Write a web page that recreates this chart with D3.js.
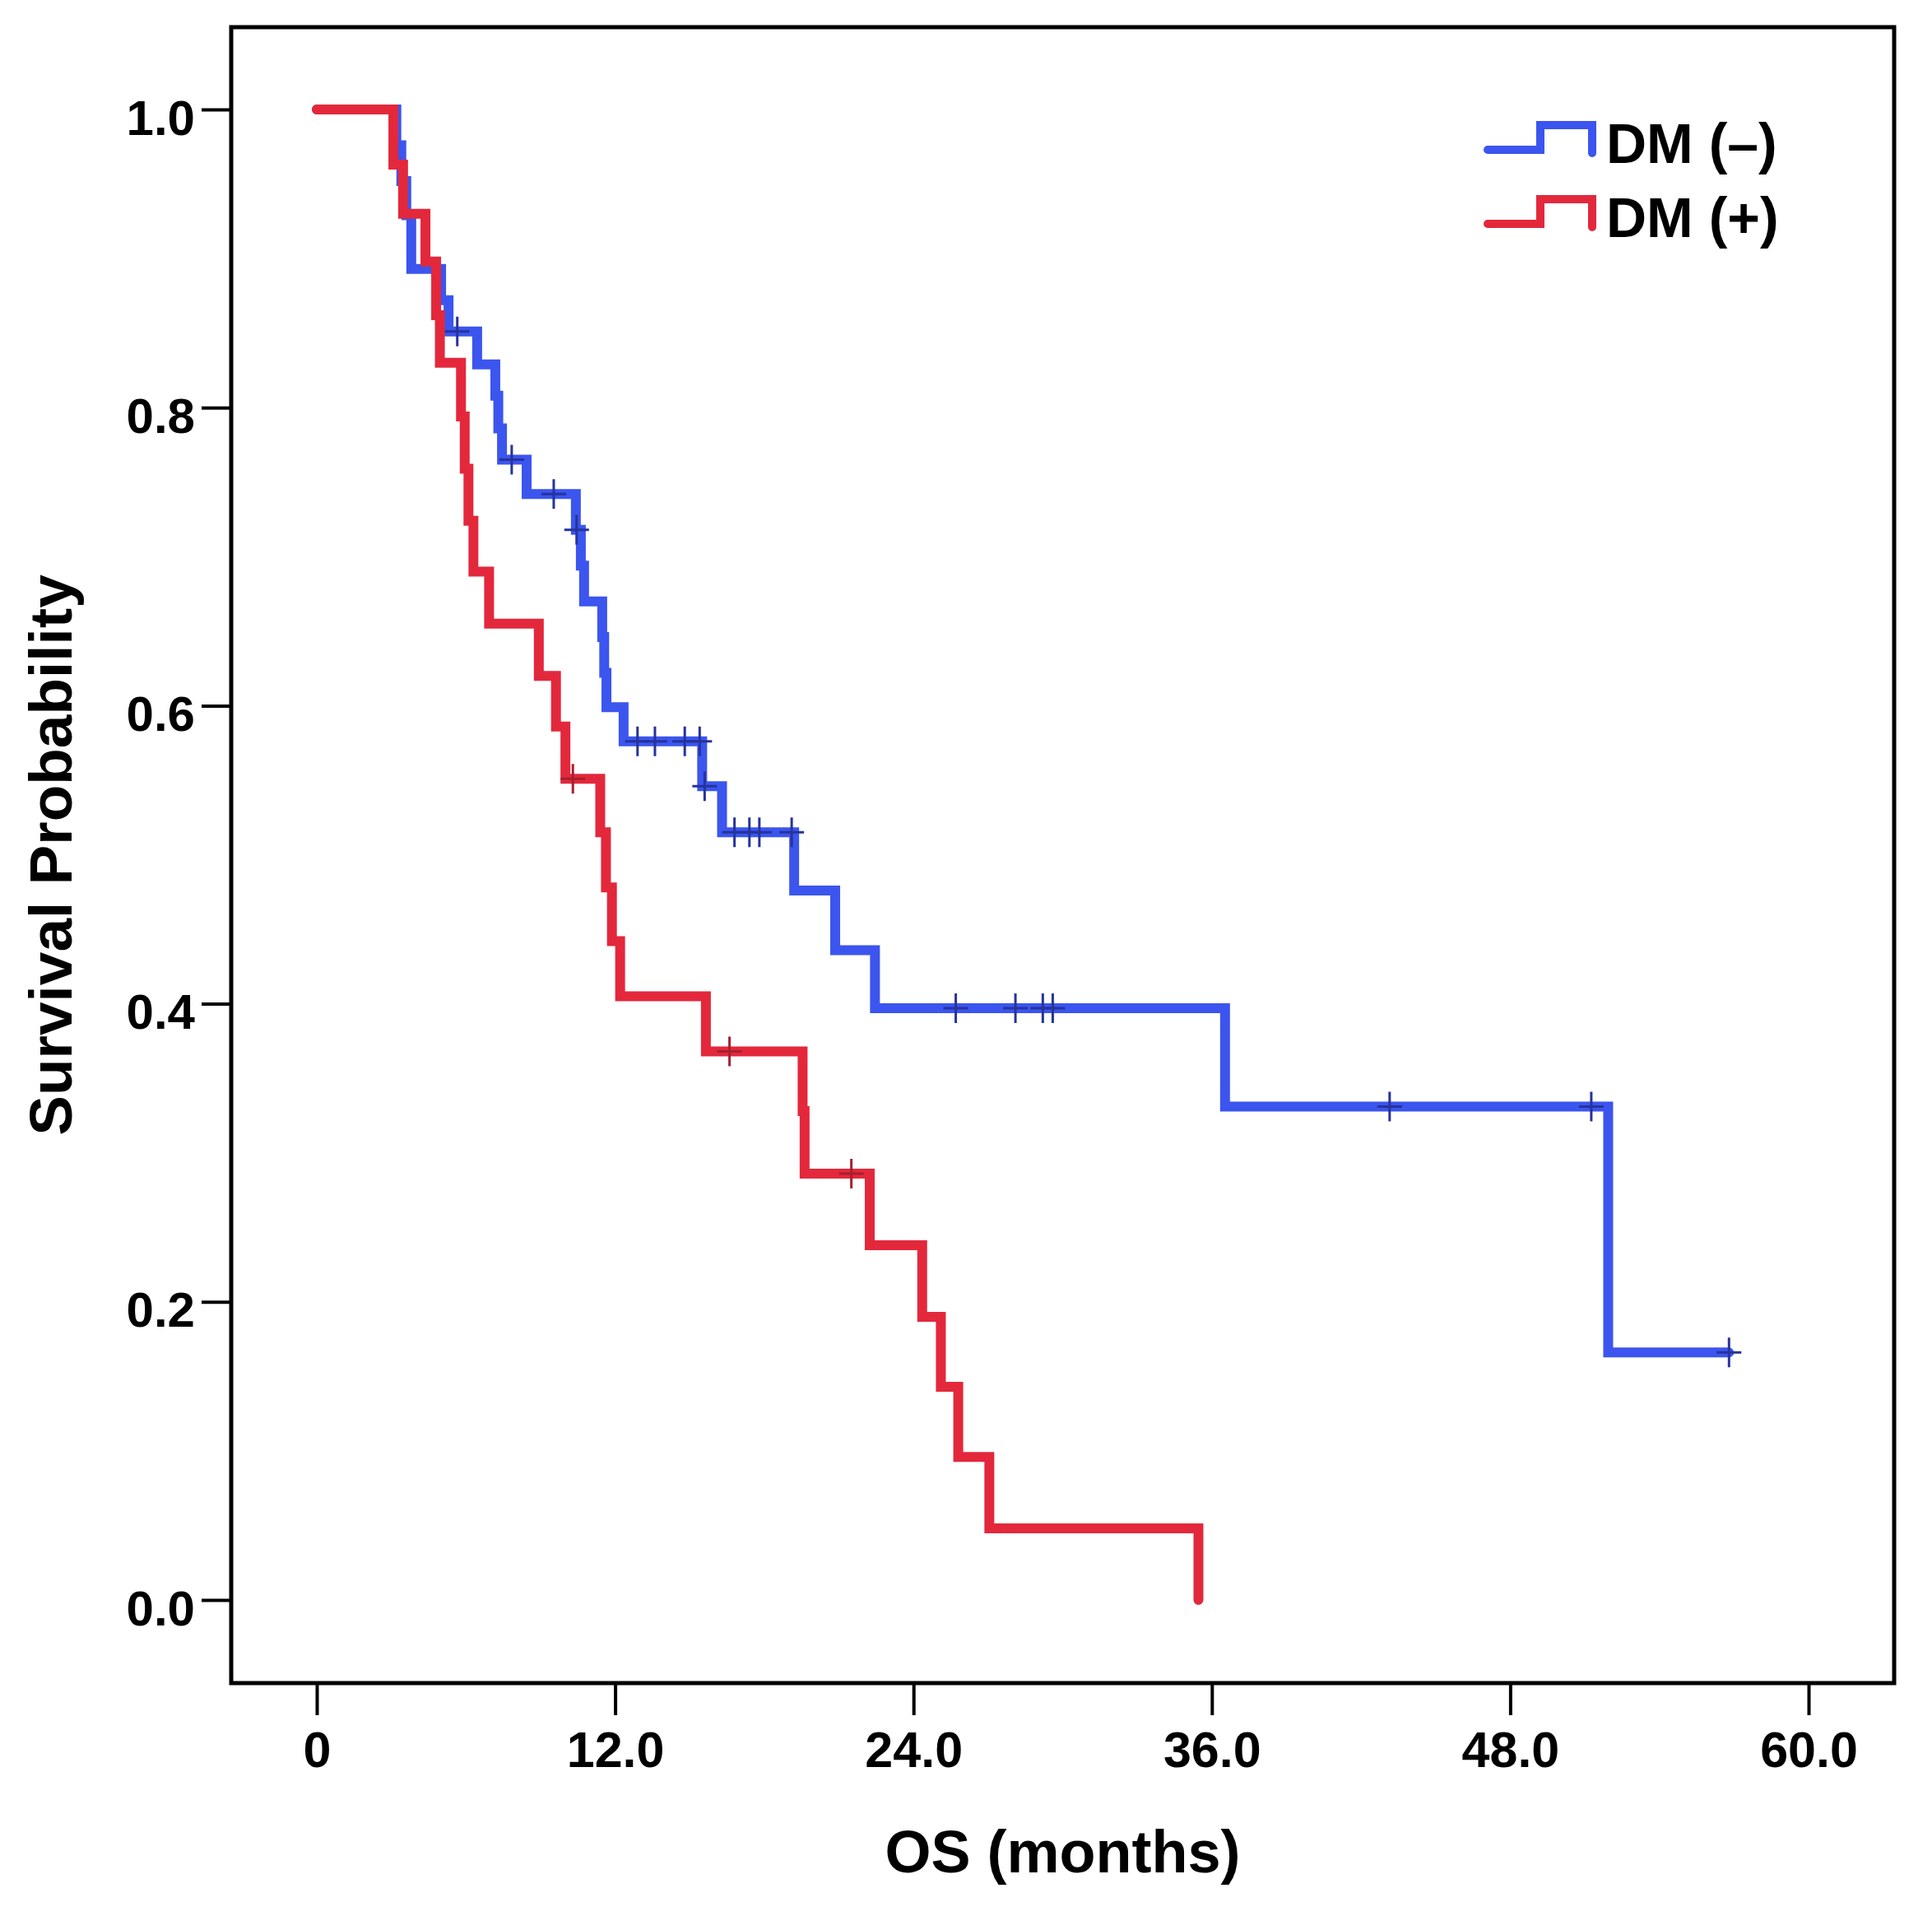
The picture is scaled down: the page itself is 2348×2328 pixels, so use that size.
<!DOCTYPE html>
<html>
<head>
<meta charset="utf-8">
<script src="https://cdn.jsdelivr.net/npm/d3@7"></script>
<style>
  body { margin: 0; background: #fff; }
  svg text { font-family: "Liberation Sans", Arial, sans-serif; font-weight: bold; fill: #000; }
</style>
</head>
<body>
<svg id="chart" width="2348" height="2328"></svg>
<script>
  'use strict';

  // DM (-) : event times (months) and survival after each event
  var negTimes = [3.2, 3.4, 3.6, 3.8, 5.0, 5.3, 6.45, 7.18, 7.3, 7.45, 8.44, 10.42, 10.62, 10.75,
    11.48, 11.56, 11.65, 12.34, 15.5, 16.3, 19.2, 20.85, 22.45, 36.53, 51.94];
  var negSurv = [0.976, 0.952, 0.929, 0.893, 0.872, 0.851, 0.829, 0.808, 0.786, 0.765, 0.742, 0.718, 0.694, 0.670,
    0.646, 0.622, 0.599, 0.576, 0.546, 0.515, 0.476, 0.436, 0.397, 0.331, 0.166];
  var negCensor = [5.65, 7.84, 9.53, 10.45, 12.9, 13.6, 14.8, 15.4, 15.6, 16.8, 17.4, 17.8, 19.1,
    25.7, 28.1, 29.2, 29.6, 43.15, 51.26, 56.8];
  var negEnd = 56.8;

  // DM (+)
  var posTimes = [3.08, 3.47, 4.37, 4.8, 4.95, 5.8, 5.95, 6.1, 6.3, 6.93, 8.93, 9.62, 10.0, 11.4, 11.63, 11.87,
    12.2, 15.65, 19.54, 19.62, 22.24, 24.35, 25.1, 25.8, 27.05, 35.46];
  var posSurv = [0.963, 0.930, 0.898, 0.862, 0.830, 0.794, 0.759, 0.724, 0.690, 0.655, 0.620, 0.586, 0.551, 0.515, 0.478, 0.442,
    0.405, 0.368, 0.328, 0.286, 0.238, 0.190, 0.143, 0.096, 0.048, 0.0];
  var posCensor = [10.3, 16.6, 21.5];
  var posEnd = 35.46;

  var xTicks = [0, 12, 24, 36, 48, 60];
  var xTickLabels = ['0', '12.0', '24.0', '36.0', '48.0', '60.0'];
  var yTicks = [0, 0.2, 0.4, 0.6, 0.8, 1.0];
  var yTickLabels = ['0.0', '0.2', '0.4', '0.6', '0.8', '1.0'];

  var groupNames = ['DM (\u2013)', 'DM (+)'];
  var groupColors = ['#3b55ee', '#e3283c'];
  var censorColors = ['#26339c', '#a8202e'];

  var frame = { left: 281, top: 33, right: 2302, bottom: 2045 };

  var svg = d3.select('#chart');

  var x = d3.scaleLinear().domain([0, 60]).range([385, 2198]);
  var y = d3.scaleLinear().domain([0, 1]).range([1944, 133]);

  function buildSeries(times, surv, end) {
    var pts = [{ t: 0, s: 1 }];
    times.forEach(function (t, i) { pts.push({ t: t, s: surv[i] }); });
    pts.push({ t: end, s: surv[surv.length - 1] });
    return pts;
  }

  function survAt(times, surv, t) {
    var s = 1;
    for (var i = 0; i < times.length; i++) {
      if (times[i] <= t) s = surv[i];
    }
    return s;
  }

  var series = [
    { name: groupNames[0], color: groupColors[0], censorColor: censorColors[0],
      pts: buildSeries(negTimes, negSurv, negEnd),
      censor: negCensor.map(function (t) { return { t: t, s: survAt(negTimes, negSurv, t) }; }) },
    { name: groupNames[1], color: groupColors[1], censorColor: censorColors[1],
      pts: buildSeries(posTimes, posSurv, posEnd),
      censor: posCensor.map(function (t) { return { t: t, s: survAt(posTimes, posSurv, t) }; }) }
  ];

  // frame
  svg.append('rect')
    .attr('x', frame.left).attr('y', frame.top)
    .attr('width', frame.right - frame.left).attr('height', frame.bottom - frame.top)
    .attr('fill', 'none').attr('stroke', '#000').attr('stroke-width', 5);

  // axes
  var xAxis = svg.append('g')
    .attr('transform', 'translate(0,' + frame.bottom + ')')
    .call(d3.axisBottom(x).tickValues(xTicks).tickSize(39).tickPadding(20)
      .tickFormat(function (d, i) { return xTickLabels[i]; }));
  xAxis.select('.domain').remove();
  xAxis.selectAll('.tick line').attr('stroke', '#000').attr('stroke-width', 4);
  xAxis.selectAll('.tick text').attr('font-size', 61).attr('fill', '#000');

  var yAxis = svg.append('g')
    .attr('transform', 'translate(' + frame.left + ',0)')
    .call(d3.axisLeft(y).tickValues(yTicks).tickSize(36).tickPadding(8)
      .tickFormat(function (d, i) { return yTickLabels[i]; }));
  yAxis.select('.domain').remove();
  yAxis.selectAll('.tick line').attr('stroke', '#000').attr('stroke-width', 4);
  yAxis.selectAll('.tick text').attr('font-size', 60).attr('dy', '0.5em').attr('fill', '#000');

  // axis titles
  svg.append('text')
    .attr('x', (frame.left + frame.right) / 2).attr('y', 2275)
    .attr('text-anchor', 'middle').attr('font-size', 72)
    .text('OS (months)');

  svg.append('text')
    .attr('transform', 'translate(87,' + ((frame.top + frame.bottom) / 2) + ') rotate(-90)')
    .attr('text-anchor', 'middle').attr('font-size', 73)
    .text('Survival Probability');

  // curves
  var line = d3.line()
    .x(function (d) { return x(d.t); })
    .y(function (d) { return y(d.s); })
    .curve(d3.curveStepAfter);

  var groups = svg.selectAll('g.series').data(series).enter()
    .append('g').attr('class', 'series');

  groups.append('path')
    .attr('d', function (d) { return line(d.pts); })
    .attr('fill', 'none')
    .attr('stroke', function (d) { return d.color; })
    .attr('stroke-width', 12)
    .attr('stroke-linejoin', 'miter')
    .attr('stroke-linecap', 'round');

  groups.each(function (d) {
    var g = d3.select(this);
    var marks = g.selectAll('path.censor').data(d.censor).enter()
      .append('path').attr('class', 'censor')
      .attr('d', function (c) {
        var cx = x(c.t), cy = y(c.s);
        return 'M' + (cx - 15) + ',' + cy + 'H' + (cx + 15) + 'M' + cx + ',' + (cy - 18) + 'V' + (cy + 18);
      })
      .attr('stroke', d.censorColor)
      .attr('stroke-width', 3)
      .attr('fill', 'none');
  });

  // legend
  var legend = svg.selectAll('g.legend').data(series).enter()
    .append('g').attr('class', 'legend')
    .attr('transform', function (d, i) { return 'translate(0,' + (198 + i * 90) + ')'; });

  legend.append('path')
    .attr('d', 'M1808,-16H1872V-46H1935V-12')
    .attr('fill', 'none')
    .attr('stroke', function (d) { return d.color; })
    .attr('stroke-width', 10)
    .attr('stroke-linejoin', 'miter')
    .attr('stroke-linecap', 'round');

  legend.append('text')
    .attr('x', 1952).attr('y', 0)
    .attr('font-size', 68)
    .text(function (d) { return d.name; });
</script>
</body>
</html>
